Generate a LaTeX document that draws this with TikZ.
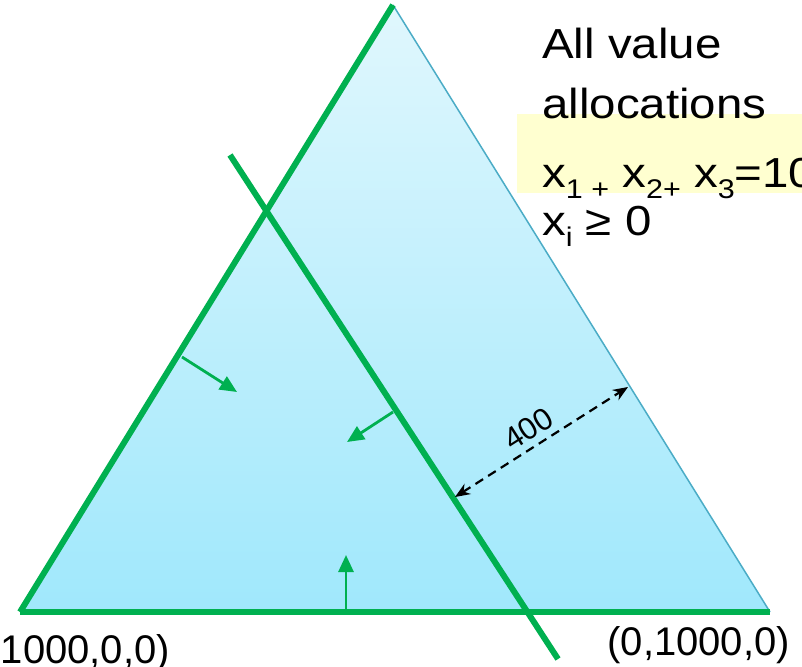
\documentclass[tikz,border=0pt]{standalone}
\usepackage{fontspec}
\setmainfont{Liberation Sans}
\usetikzlibrary{positioning, calc, arrows.meta}
\definecolor{edgeGreen}{RGB}{0,176,80}
\definecolor{edgeBlue}{RGB}{75,172,198}
\definecolor{skyTop}{RGB}{224,247,253}
\definecolor{skyBottom}{RGB}{160,232,252}
\definecolor{noteYellow}{RGB}{255,255,208}
\newcommand{\lowidx}[1]{\raisebox{-0.28em}{\fontsize{27}{27}\selectfont #1}}
\newcommand{\widetext}[1]{\scalebox{1.13}[1]{#1}}

\begin{document}
\begin{tikzpicture}[x=1pt, y=-1pt,
    edge/.style={edgeGreen, line width=6pt},
    push/.style={edgeGreen, line width=2.8pt, -{Triangle[length=17pt, width=15pt]}},
    gap/.style={black, line width=2.2pt, dash pattern=on 9pt off 6pt,
                {Stealth[length=15pt, width=12pt]}-{Stealth[length=15pt, width=12pt]}},
    body/.style={font=\fontsize{42}{42}\selectfont, inner sep=0pt, anchor=base west},
    corner/.style={font=\fontsize{40}{40}\selectfont, inner sep=0pt, anchor=base east}]

  \clip (0,0) rectangle (802,666);
  \fill[white] (0,0) rectangle (802,666);

  \coordinate (apex) at (393,5);
  \coordinate (left) at (20,612);
  \coordinate (right) at (770,612);

  % the simplex
  \shade[top color=skyTop, bottom color=skyBottom] (left) -- (apex) -- (right) -- cycle;
  \draw[edgeBlue, line width=1.5pt] (apex) -- (right);
  \draw[edge] (left) -- (apex);
  \draw[edge] (left) -- (right);

  % cutting line
  \coordinate (cutA) at (230,155);
  \coordinate (cutB) at (558,659);
  \draw[edge] (cutA) -- (cutB);

  % feasible side arrows
  \coordinate (p1) at (182,357);
  \coordinate (q1) at (237,392);
  \coordinate (p2) at (393,412);
  \coordinate (q2) at (347,442);
  \coordinate (p3) at (346,612);
  \coordinate (q3) at (346,555);
  \draw[push] (p1) -- (q1);
  \draw[push] (p2) -- (q2);
  \draw[push] (p3) -- (q3);

  % distance
  \coordinate (g1) at (455,497);
  \coordinate (g2) at (628,387);
  \draw[gap] (g1) -- node[sloped, above=6pt, pos=0.48, font=\fontsize{31}{31}\selectfont, inner sep=0pt] (gapLabel) {400} (g2);

  % constraint text
  \fill[noteYellow] (517,114) rectangle (802,193);
  \node[body] (allLine) at (542,59) {\widetext{All value}};
  \node[body] (allocLine) at (542,118) {\widetext{allocations}};
  \node[body] (sumLine) at (542,187) {\widetext{x\lowidx{1 +} x\lowidx{2+} x\lowidx{3}=1000}};
  \node[body] (signLine) at (542,235) {\widetext{x\lowidx{i} ≥ 0}};

  \node[corner] (ptLeft) at (170,663) {(1000,0,0)};
  \node[corner] (ptRight) at (790,655) {(0,1000,0)};
\end{tikzpicture}
\end{document}
